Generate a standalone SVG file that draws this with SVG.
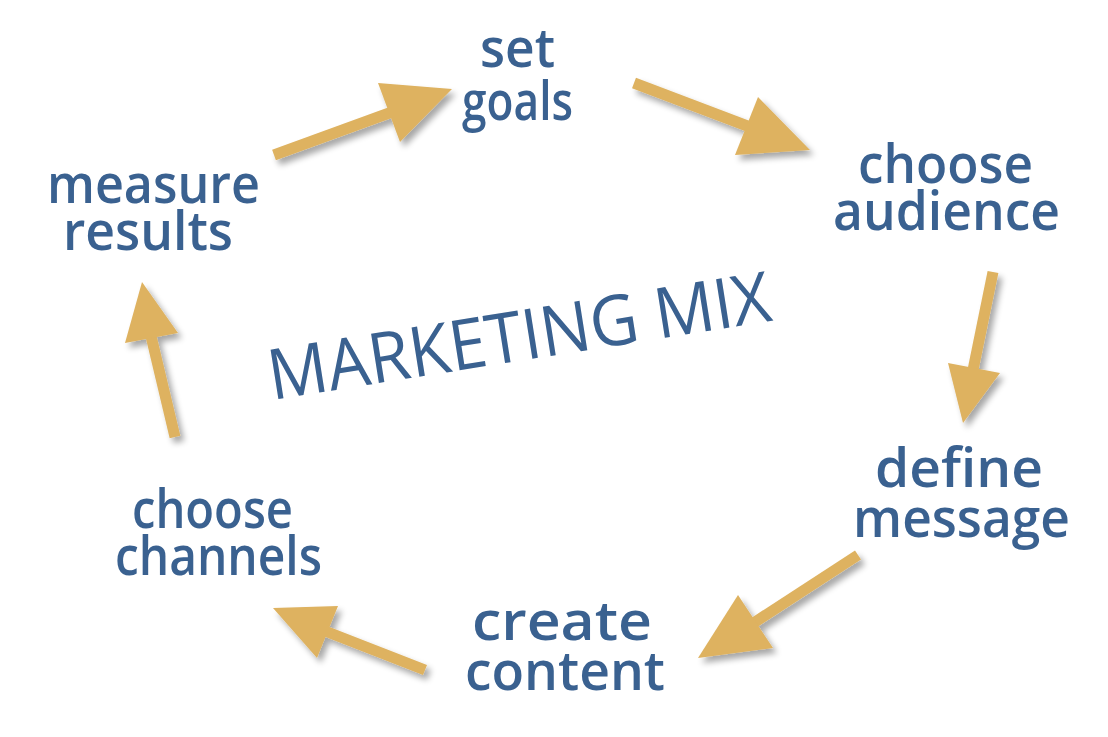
<svg xmlns="http://www.w3.org/2000/svg" width="1108" height="737" viewBox="0 0 1108 737">
<defs>
<filter id="sh" x="-20%" y="-20%" width="150%" height="150%">
<feGaussianBlur in="SourceAlpha" stdDeviation="3"/>
<feOffset dx="4" dy="5" result="b"/>
<feComponentTransfer><feFuncA type="linear" slope="0.35"/></feComponentTransfer>
<feMerge><feMergeNode/><feMergeNode in="SourceGraphic"/></feMerge>
</filter>
</defs>
<style>
.lbl{font-family:"Open Sans","Noto Sans","DejaVu Sans",sans-serif;font-size:54px;font-weight:600;fill:#3a6190;}
.title{font-family:"Open Sans","Noto Sans","DejaVu Sans",sans-serif;font-size:70px;font-weight:500;fill:#3a6190;}
.shaft{stroke:#deb260;stroke-width:11;fill:none;}
.head{fill:#deb260;}
</style>
<rect width="1108" height="737" fill="#ffffff"/>
<g id="connectors" filter="url(#sh)">
<g id="a1"><line class="shaft" x1="274" y1="155" x2="392" y2="112"/><polygon class="head" points="378,83 452,89 400,142"/></g>
<g id="a2"><line class="shaft" x1="634" y1="83" x2="750" y2="127"/><polygon class="head" points="758,97 810,150 735,155"/></g>
<g id="a3"><line class="shaft" x1="993" y1="272" x2="973" y2="370"/><polygon class="head" points="948,363 1000,373 963,423"/></g>
<g id="a4"><line class="shaft" x1="858" y1="555" x2="752" y2="624"/><polygon class="head" points="738,595 773,648 698,658"/></g>
<g id="a5"><line class="shaft" x1="425" y1="670" x2="325" y2="631"/><polygon class="head" points="273,608 338,606 317,658"/></g>
<g id="a6"><line class="shaft" x1="175" y1="437" x2="151" y2="336"/><polygon class="head" points="142,282 178,333 125,343"/></g>
</g>
<g id="set-goals">
<text class="lbl" x="480" y="67" textLength="75" lengthAdjust="spacingAndGlyphs">set</text>
<text class="lbl" x="462" y="120" textLength="111" lengthAdjust="spacingAndGlyphs">goals</text>
</g>
<g id="choose-audience">
<text class="lbl" x="858" y="183" textLength="175" lengthAdjust="spacingAndGlyphs">choose</text>
<text class="lbl" x="833" y="230" textLength="227" lengthAdjust="spacingAndGlyphs">audience</text>
</g>
<g id="define-message">
<text class="lbl" x="875" y="487" textLength="168" lengthAdjust="spacingAndGlyphs">define</text>
<text class="lbl" x="853" y="537" textLength="217" lengthAdjust="spacingAndGlyphs">message</text>
</g>
<g id="create-content">
<text class="lbl" x="472" y="640" textLength="180" lengthAdjust="spacingAndGlyphs">create</text>
<text class="lbl" x="465" y="690" textLength="200" lengthAdjust="spacingAndGlyphs">content</text>
</g>
<g id="choose-channels">
<text class="lbl" x="132" y="528" textLength="161" lengthAdjust="spacingAndGlyphs">choose</text>
<text class="lbl" x="115" y="575" textLength="207" lengthAdjust="spacingAndGlyphs">channels</text>
</g>
<g id="measure-results">
<text class="lbl" x="47" y="203" textLength="213" lengthAdjust="spacingAndGlyphs">measure</text>
<text class="lbl" x="63" y="250" textLength="170" lengthAdjust="spacingAndGlyphs">results</text>
</g>
<g id="marketing-mix">
<text class="title" x="272" y="400" transform="rotate(-9 272 400)" textLength="508" lengthAdjust="spacingAndGlyphs">MARKETING MIX</text>
</g>
</svg>
